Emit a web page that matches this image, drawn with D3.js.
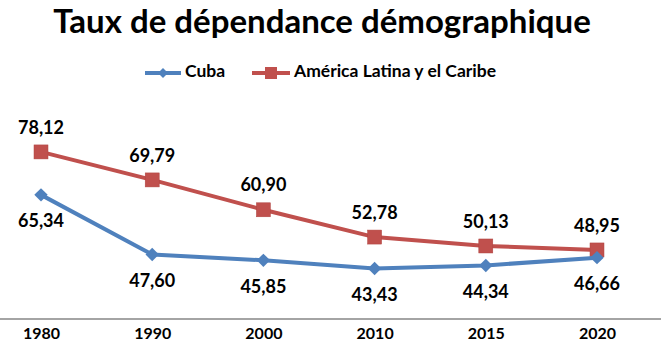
<!DOCTYPE html>
<html>
<head>
<meta charset="utf-8">
<script src="https://cdn.jsdelivr.net/npm/d3@7"></script>
<style>
  body { margin: 0; background: #fff; }
  svg { display: block; font-family: "Lato", "Open Sans", sans-serif; font-weight: bold; }
</style>
</head>
<body>
<div id="chart"></div>
<script>
"use strict";

const years = ["1980", "1990", "2000", "2010", "2015", "2020"];
const cuba = [65.34, 47.60, 45.85, 43.43, 44.34, 46.66];
const latam = [78.12, 69.79, 60.90, 52.78, 50.13, 48.95];
const seriesNames = ["Cuba", "América Latina y el Caribe"];
const title = "Taux de dépendance démographique";

let width = 672, height = 364;
let blue = "#4F81BD", red = "#C0504D";

let svg = d3.select("#chart").append("svg")
  .attr("width", width)
  .attr("height", height);

let x = d3.scalePoint()
  .domain(years)
  .range([41, 597]);

let y = d3.scaleLinear()
  .domain([28.4, 90])
  .range([319, 112]);

let fmt = v => d3.format(".2f")(v).replace(".", ",");

// title
svg.append("text")
  .attr("x", 322)
  .attr("y", 33)
  .attr("text-anchor", "middle")
  .style("font-size", "33px")
  .text(title);

// axis
let xAxis = d3.axisBottom(x).tickSize(0).tickPadding(9);
let axisG = svg.append("g")
  .attr("transform", "translate(0," + y.range()[0] + ")")
  .call(xAxis);
axisG.select(".domain")
  .attr("d", "M0,0H661")
  .attr("stroke", "#868686")
  .attr("stroke-width", 1.5);
axisG.selectAll("text")
  .attr("fill", "#000")
  .style("font-size", "16px")
  .style("font-family", "Lato, sans-serif")
  .style("font-weight", "bold");

let line = d3.line()
  .x((d, i) => x(years[i]))
  .y(d => y(d));

let diamond = d3.symbol().type(d3.symbolSquare).size(90);

function drawSeries(data, color, marker, labelDy) {
  let g = svg.append("g");
  g.append("path")
    .attr("d", line(data))
    .attr("fill", "none")
    .attr("stroke", color)
    .attr("stroke-width", 4)
    .attr("stroke-linejoin", "round");

  if (marker === "diamond") {
    g.selectAll(".pt").data(data).enter().append("path")
      .attr("d", diamond)
      .attr("transform", (d, i) => "translate(" + x(years[i]) + "," + y(d) + ") rotate(45)")
      .attr("fill", color);
  } else {
    g.selectAll(".pt").data(data).enter().append("rect")
      .attr("x", (d, i) => x(years[i]) - 7)
      .attr("y", d => y(d) - 7)
      .attr("width", 14)
      .attr("height", 14)
      .attr("fill", color)
      .attr("stroke", "#b04440")
      .attr("stroke-width", 0.5);
  }

  g.selectAll(".lbl").data(data).enter().append("text")
    .attr("x", (d, i) => x(years[i]))
    .attr("y", d => y(d) + labelDy)
    .attr("text-anchor", "middle")
    .attr("dominant-baseline", "middle")
    .style("font-size", "18px")
    .text(fmt);
}

drawSeries(latam, red, "square", -23);
drawSeries(cuba, blue, "diamond", 28);

// legend
let legend = svg.append("g").attr("transform", "translate(0,73)");
let items = [
  { name: seriesNames[0], color: blue, x0: 145, x1: 181, marker: "diamond" },
  { name: seriesNames[1], color: red, x0: 252, x1: 290, marker: "square" }
];
items.forEach(it => {
  legend.append("line")
    .attr("x1", it.x0).attr("x2", it.x1)
    .attr("stroke", it.color)
    .attr("stroke-width", 4);
  let cx = (it.x0 + it.x1) / 2;
  if (it.marker === "diamond") {
    legend.append("path")
      .attr("d", d3.symbol().type(d3.symbolSquare).size(50))
      .attr("transform", "translate(" + cx + ",0) rotate(45)")
      .attr("fill", it.color);
  } else {
    legend.append("rect")
      .attr("x", cx - 6).attr("y", -6)
      .attr("width", 12).attr("height", 12)
      .attr("fill", it.color);
  }
  legend.append("text")
    .attr("x", it.x1 + 4)
    .attr("y", 0)
    .attr("dominant-baseline", "middle")
    .style("font-size", "17.5px")
    .text(it.name);
});
</script>
</body>
</html>
